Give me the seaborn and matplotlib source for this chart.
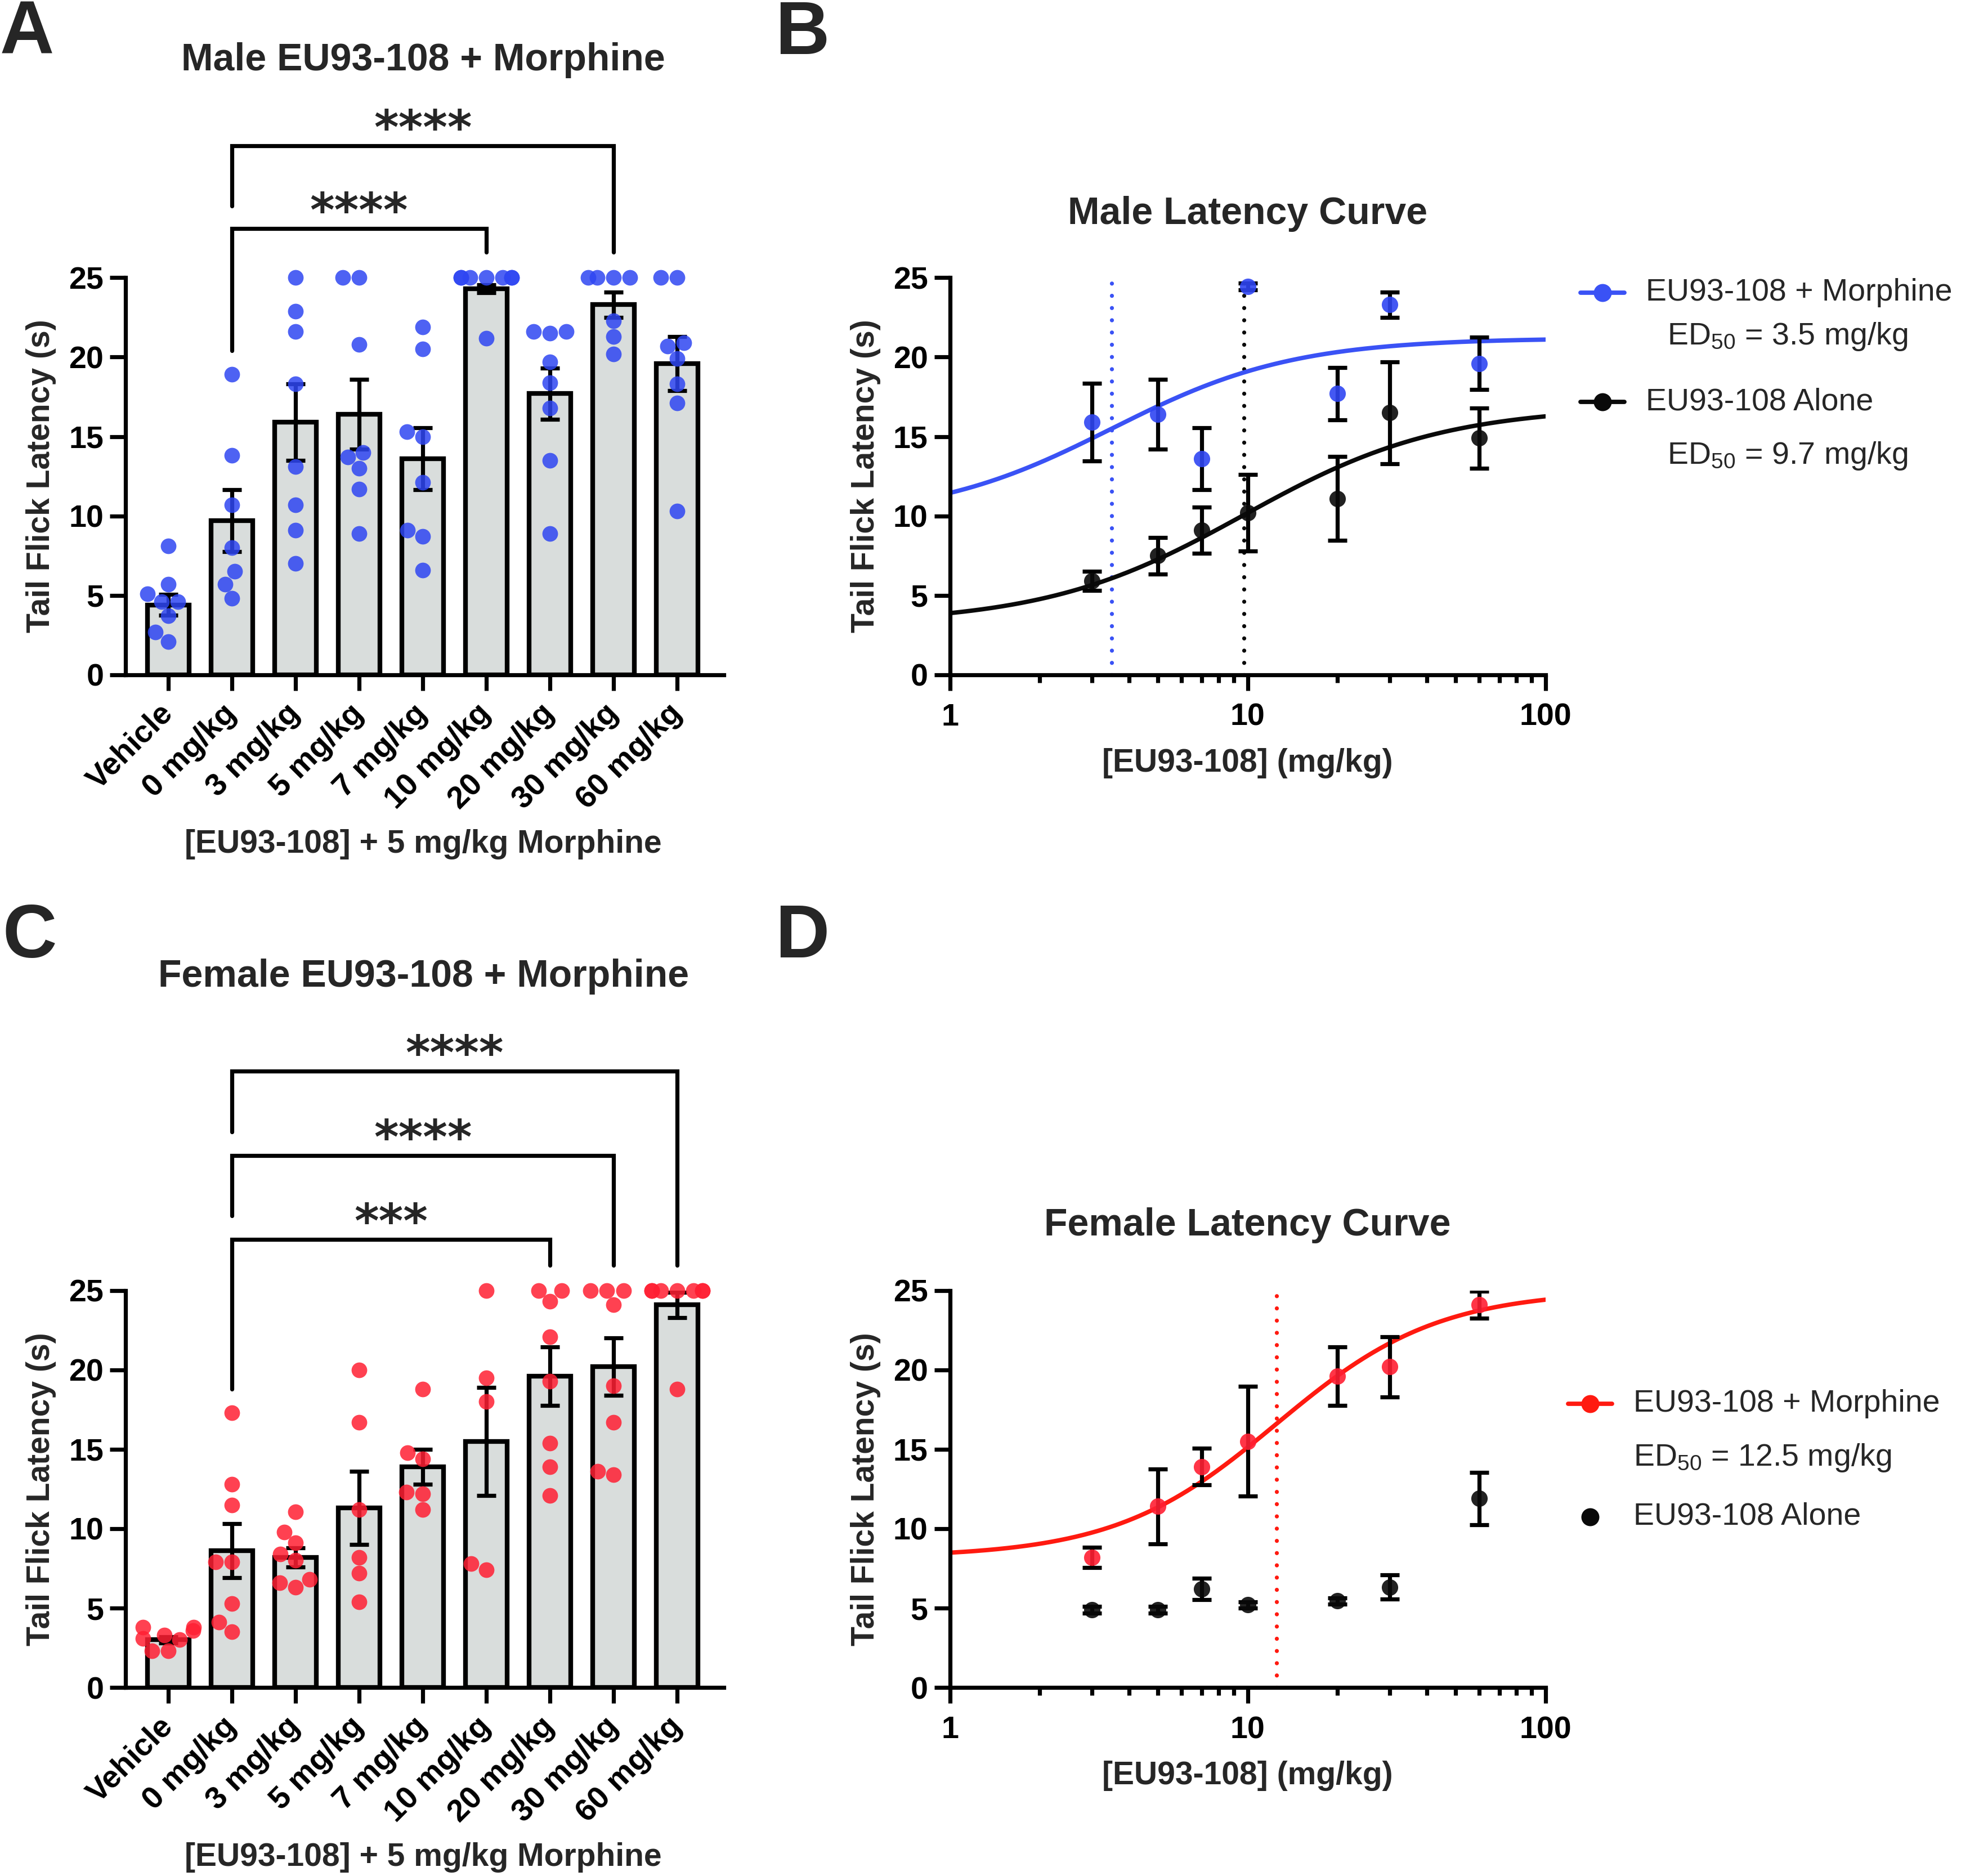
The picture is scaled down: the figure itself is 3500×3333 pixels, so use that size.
import numpy as np
import pandas as pd
import matplotlib
matplotlib.use('Agg')
import matplotlib.pyplot as plt
from matplotlib.lines import Line2D
from matplotlib.ticker import LogLocator, NullFormatter
import seaborn as sns

sns.set_style('ticks')
plt.rcParams['font.family'] = ['Liberation Sans', 'DejaVu Sans']
plt.rcParams.update({
    'mathtext.fontset': 'custom',
    'mathtext.rm': 'Liberation Sans',
    'mathtext.it': 'Liberation Sans:italic',
    'mathtext.bf': 'Liberation Sans:bold',
    'axes.linewidth': 2.6,
    'axes.edgecolor': 'black',
    'xtick.major.width': 2.6,
    'ytick.major.width': 2.6,
    'xtick.minor.width': 2.6,
    'xtick.major.size': 10,
    'ytick.major.size': 10,
    'xtick.minor.size': 5,
    'xtick.color': 'black',
    'ytick.color': 'black',
})

BLUE = '#2f46f2'
BLUE_LINE = '#3a52f5'
RED = '#ff1f33'
RED_LINE = '#ff1a10'
BLACK = '#0a0a0a'
BAR_FILL = '#d9dddc'

# ---- bar panels (A, C) ----
groups = ['Vehicle', '0 mg/kg', '3 mg/kg', '5 mg/kg', '7 mg/kg',
          '10 mg/kg', '20 mg/kg', '30 mg/kg', '60 mg/kg']

male_mean = [4.4, 9.7, 15.9, 16.4, 13.6, 24.3, 17.7, 23.3, 19.6]
male_sem = [0.65, 1.95, 2.4, 2.2, 1.95, 0.25, 1.6, 0.8, 1.7]
male_points = [
    [8.1, 5.7, 5.1, 4.6, 4.6, 3.7, 2.7, 2.1],
    [18.9, 13.8, 10.7, 8.0, 6.5, 5.7, 4.8],
    [25.0, 22.9, 21.6, 18.3, 13.1, 10.7, 9.1, 7.0],
    [25.0, 25.0, 20.8, 14.0, 13.7, 13.0, 11.7, 8.9],
    [21.9, 20.5, 15.3, 15.0, 12.1, 9.1, 8.7, 6.6],
    [25.0, 25.0, 25.0, 25.0, 25.0, 25.0, 25.0, 21.2],
    [21.6, 21.6, 21.5, 19.7, 18.4, 16.8, 13.5, 8.9],
    [25.0, 25.0, 25.0, 25.0, 22.3, 21.3, 20.2],
    [25.0, 25.0, 20.9, 20.7, 19.9, 18.3, 17.1, 10.3],
]

female_mean = [3.0, 8.6, 8.2, 11.3, 13.9, 15.5, 19.6, 20.2, 24.1]
female_sem = [0.2, 1.7, 0.6, 2.3, 1.1, 3.4, 1.85, 1.8, 0.8]
female_points = [
    [3.8, 3.8, 3.6, 3.3, 3.1, 3.0, 2.3, 2.3],
    [17.3, 12.8, 11.5, 7.9, 7.9, 5.3, 4.1, 3.5],
    [11.05, 9.8, 9.1, 8.4, 8.0, 6.8, 6.6, 6.3],
    [20.0, 16.7, 11.2, 8.2, 7.2, 5.4],
    [18.8, 14.8, 14.4, 12.3, 12.2, 11.2],
    [25.0, 19.5, 18.0, 7.8, 7.4],
    [25.0, 25.0, 24.3, 22.1, 19.3, 15.4, 13.9, 12.1],
    [25.0, 25.0, 25.0, 24.1, 19.0, 16.7, 13.6, 13.4],
    [25.0, 25.0, 25.0, 25.0, 25.0, 25.0, 25.0, 18.8],
]

# comparisons: (group i, group j, bracket height, left leg end, right leg end, stars)
male_brackets = [
    (1, 5, 28.1, 20.4, 26.6, '****'),
    (1, 7, 33.3, 29.5, 26.6, '****'),
]
female_brackets = [
    (1, 6, 28.2, 18.8, 26.6, '***'),
    (1, 7, 33.5, 29.7, 26.6, '****'),
    (1, 8, 38.8, 35.0, 26.6, '****'),
]

# ---- dose-response panels (B, D) ----
doses = [3, 5, 7, 10, 20, 30, 60]
male_morph_mean = [15.9, 16.4, 13.6, 24.45, 17.7, 23.3, 19.6]
male_morph_sem = [2.45, 2.2, 1.95, 0.2, 1.65, 0.8, 1.65]
male_alone_mean = [5.9, 7.5, 9.1, 10.2, 11.1, 16.5, 14.9]
male_alone_sem = [0.6, 1.15, 1.45, 2.4, 2.65, 3.2, 1.9]

female_morph_mean = [8.2, 11.4, 13.9, 15.5, 19.6, 20.2, 24.1]
female_morph_sem = [0.63, 2.35, 1.15, 3.45, 1.85, 1.9, 0.85]
female_alone_mean = [4.9, 4.9, 6.2, 5.2, 5.45, 6.33, 11.9]
female_alone_sem = [0.2, 0.2, 0.68, 0.2, 0.2, 0.75, 1.65]

# fitted 4-parameter logistic curves: bottom, top, ED50, hill slope
male_morph_fit = (9.8, 21.2, 3.5, 1.42)
male_alone_fit = (3.2, 16.9, 9.7, 1.3)
female_morph_fit = (8.2, 25.0, 12.5, 1.6)

# layout helpers (reference measured on a 1568 x 1493 grid)
W, H = 1568, 1493


def fx(x):
    return x / W


def fy(y):
    return 1 - y / H


def logistic(x, fit):
    bottom, top, ed50, hill = fit
    return bottom + (top - bottom) / (1 + (ed50 / x) ** hill)


fig = plt.figure(figsize=(17.5, 16.665), dpi=200)

TICK_FS = 20
LABEL_FS = 20.5
TITLE_FS = 24.5


def style_y(ax):
    ax.set_ylim(0, 25)
    ax.set_yticks([0, 5, 10, 15, 20, 25])
    ax.tick_params(axis='y', labelsize=TICK_FS, pad=4)
    for lab in ax.get_yticklabels():
        lab.set_fontweight('bold')
    ax.set_ylabel('Tail Flick Latency (s)', fontsize=LABEL_FS,
                  fontweight='bold', labelpad=8)
    sns.despine(ax=ax)


def bar_panel(rect, means, sems, points, color, brackets):
    ax = fig.add_axes(rect)
    sns.barplot(x=groups, y=means, order=groups, color=BAR_FILL,
                saturation=1, edgecolor='black', linewidth=3,
                width=0.65, errorbar=None, ax=ax, zorder=2)
    ax.errorbar(np.arange(len(groups)), means, yerr=sems, fmt='none',
                ecolor='black', elinewidth=2.6, capsize=6, capthick=2.6,
                zorder=3)
    df = pd.DataFrame({
        'group': [g for g, pts in zip(groups, points) for _ in pts],
        'latency': [v for pts in points for v in pts],
    })
    sns.swarmplot(data=df, x='group', y='latency', order=groups,
                  color=color, size=10, alpha=0.85, linewidth=0,
                  warn_thresh=1, ax=ax, zorder=4)
    for coll in ax.collections:
        coll.set_clip_on(False)
    for i, j, h, left_end, right_end, stars in brackets:
        ax.plot([i, i, j, j], [left_end, h, h, right_end], color='black',
                lw=2.6, clip_on=False, solid_joinstyle='miter', zorder=5)
        ax.text((i + j) / 2, h + 0.15, stars, ha='center', va='baseline',
                fontsize=30, fontweight='bold', family='DejaVu Sans',
                clip_on=False)
    ax.set_xlim(-0.67, 8.73)
    style_y(ax)
    ax.set_xlabel('')
    ax.set_xticks(range(len(groups)))
    ax.set_xticklabels(groups, rotation=45, ha='right', va='center',
                       rotation_mode='anchor', fontsize=TICK_FS,
                       fontweight='bold')
    ax.tick_params(axis='x', pad=12)
    return ax


def curve_panel(rect, series, vline_specs):
    ax = fig.add_axes(rect)
    ax.set_xscale('log')
    grid = np.logspace(0, 2, 300)
    for ed50, col in vline_specs:
        ax.vlines(ed50, 0, 25, colors=col, linewidth=2.6,
                  linestyles=[(0, (0.01, 3))], capstyle='round', zorder=1)
    for mean, sem, color, fit in series:
        if fit is not None:
            sns.lineplot(x=grid, y=logistic(grid, fit), color=color[1],
                         linewidth=2.8, ax=ax, zorder=2)
        ax.errorbar(doses, mean, yerr=sem, fmt='none', ecolor='black',
                    elinewidth=2.6, capsize=6, capthick=2.6, zorder=3)
        sns.scatterplot(x=doses, y=mean, color=color[0], s=110,
                        linewidth=0, alpha=0.9, ax=ax, zorder=4)
    for coll in ax.collections:
        coll.set_clip_on(False)
    ax.set_xlim(1, 100)
    ax.set_xticks([1, 10, 100])
    ax.set_xticklabels(['1', '10', '100'], fontsize=TICK_FS,
                       fontweight='bold')
    ax.xaxis.set_minor_locator(LogLocator(base=10, subs=range(2, 10)))
    ax.xaxis.set_minor_formatter(NullFormatter())
    ax.tick_params(axis='x', which='major', pad=8)
    style_y(ax)
    ax.set_xlabel('[EU93-108] (mg/kg)', fontsize=LABEL_FS,
                  fontweight='bold', labelpad=10)
    return ax


ax_h = (537 - 221) / H

axA = bar_panel([fx(100), fy(537), (576 - 100) / W, ax_h],
                male_mean, male_sem, male_points, BLUE, male_brackets)
axC = bar_panel([fx(100), fy(1343), (576 - 100) / W, ax_h],
                female_mean, female_sem, female_points, RED, female_brackets)

axB = curve_panel([fx(756), fy(537), (1230 - 756) / W, ax_h],
                  [(male_morph_mean, male_morph_sem, (BLUE, BLUE_LINE), male_morph_fit),
                   (male_alone_mean, male_alone_sem, (BLACK, BLACK), male_alone_fit)],
                  [(male_morph_fit[2], BLUE_LINE), (male_alone_fit[2], BLACK)])
axD = curve_panel([fx(756), fy(1343), (1230 - 756) / W, ax_h],
                  [(female_morph_mean, female_morph_sem, (RED, RED_LINE), female_morph_fit),
                   (female_alone_mean, female_alone_sem, (BLACK, BLACK), None)],
                  [(female_morph_fit[2], RED_LINE)])

# titles and x labels
fig.text(fx(337), fy(48), 'Male EU93-108 + Morphine', ha='center',
         va='center', fontsize=TITLE_FS, fontweight='bold')
fig.text(fx(337), fy(777), 'Female EU93-108 + Morphine', ha='center',
         va='center', fontsize=TITLE_FS, fontweight='bold')
fig.text(fx(993), fy(170), 'Male Latency Curve', ha='center',
         va='center', fontsize=TITLE_FS, fontweight='bold')
fig.text(fx(993), fy(975), 'Female Latency Curve', ha='center',
         va='center', fontsize=TITLE_FS, fontweight='bold')
for y in (672, 1478):
    fig.text(fx(337), fy(y), '[EU93-108] + 5 mg/kg Morphine', ha='center',
             va='center', fontsize=LABEL_FS, fontweight='bold')

# panel letters
for letter, x, y in [('A', 0, 43), ('B', 617, 43), ('C', 2, 762), ('D', 617, 762)]:
    fig.text(fx(x), fy(y), letter, ha='left', va='baseline',
             fontsize=48, fontweight='bold')

# legends
LEG_FS = 20


def legend_key(x0, x1, y, color, line=True):
    if line:
        fig.add_artist(Line2D([fx(x0), fx(x1)], [fy(y), fy(y)],
                              transform=fig.transFigure, color=color, lw=2.8))
    fig.add_artist(Line2D([fx((x0 + x1) / 2)], [fy(y)],
                          transform=fig.transFigure, color=color,
                          marker='o', markersize=10.5, lw=0))


legend_key(1258, 1293, 233, BLUE_LINE)
fig.text(fx(1310), fy(233), 'EU93-108 + Morphine', va='center', fontsize=LEG_FS)
fig.text(fx(1327), fy(268), r'ED$_{50}$ = 3.5 mg/kg', va='center', fontsize=LEG_FS)
legend_key(1258, 1293, 320, BLACK)
fig.text(fx(1310), fy(320), 'EU93-108 Alone', va='center', fontsize=LEG_FS)
fig.text(fx(1327), fy(363), r'ED$_{50}$ = 9.7 mg/kg', va='center', fontsize=LEG_FS)

legend_key(1248, 1283, 1117, RED_LINE)
fig.text(fx(1300), fy(1117), 'EU93-108 + Morphine', va='center', fontsize=LEG_FS)
fig.text(fx(1300), fy(1160), r'ED$_{50}$ = 12.5 mg/kg', va='center', fontsize=LEG_FS)
legend_key(1248, 1283, 1207, BLACK, line=False)
fig.text(fx(1300), fy(1207), 'EU93-108 Alone', va='center', fontsize=LEG_FS)

fig.savefig('out.png', dpi=200)
plt.close(fig)
